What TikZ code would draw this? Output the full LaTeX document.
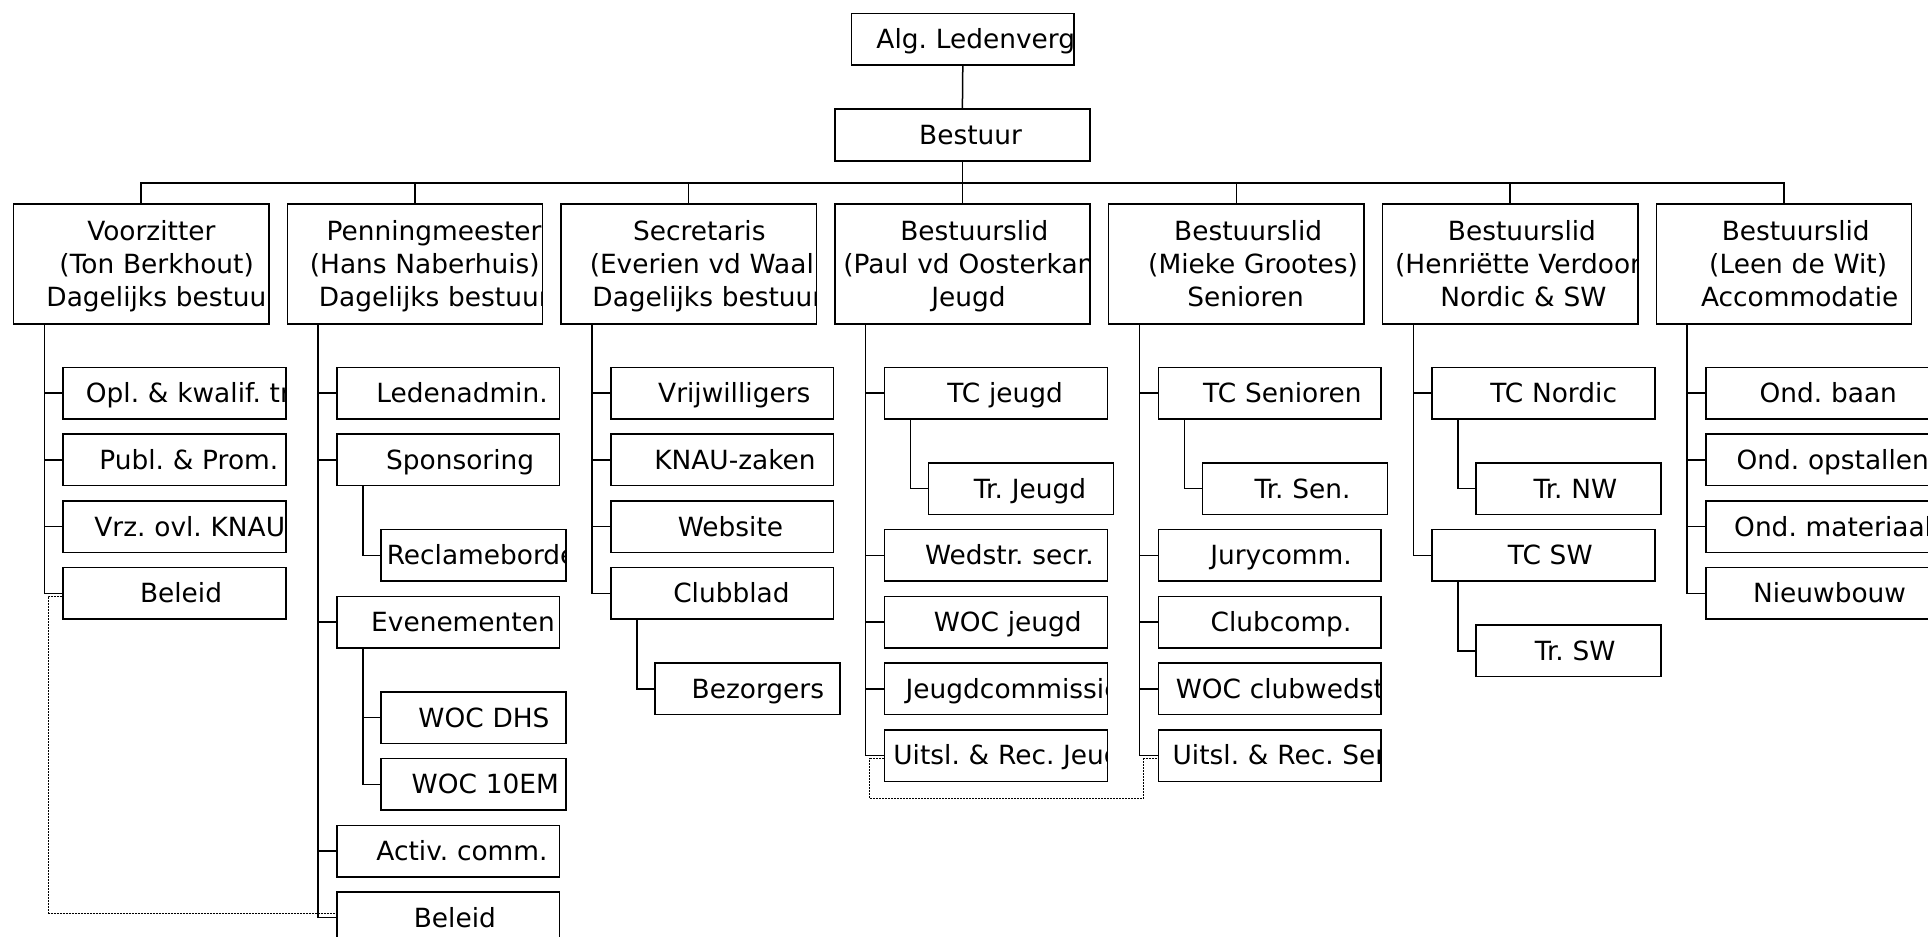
\documentclass[tikz,border=0pt]{standalone}
\usepackage{fontspec}
\setmainfont{DejaVu Sans}
\frenchspacing
\newcommand{\lt}[1]{\makebox[0.84\width][l]{#1}}
\newcommand{\lc}[2]{\makebox[\linewidth][l]{\hspace*{#1}\makebox[0pt][l]{#2}}}
\tikzset{
  box/.style={draw, inner sep=0pt, anchor=north west},
  ln/.style={draw=none, anchor=base, inner sep=0pt, minimum width=0pt, minimum height=0pt, text width=#1, align=center},
  headbox/.style={box, minimum width=127.65pt, minimum height=26pt,
    path picture={\node[ln=127.65pt] at ([yshift=-4.7pt]path picture bounding box.center) {\lt{#1}};}},
  topbox/.style n args={3}{box, minimum width=127.65pt, minimum height=60pt,
    path picture={
      \node[ln=127.65pt] at ([yshift=11.95pt]path picture bounding box.center) {#1};
      \node[ln=127.65pt] at ([yshift=-4.7pt]path picture bounding box.center) {#2};
      \node[ln=127.65pt] at ([yshift=-21.35pt]path picture bounding box.center) {#3};}},
  unitbox/.style={box, minimum width=111.35pt, minimum height=25.75pt,
    path picture={\node[ln=111.35pt] at ([yshift=-4.7pt]path picture bounding box.center) {\lt{#1}};}},
  unitcut/.style 2 args={box, minimum width=111.35pt, minimum height=25.75pt,
    path picture={\node[ln=111.35pt] at ([yshift=-4.7pt]path picture bounding box.center) {\lc{#1}{#2}};}},
  subbox/.style={box, minimum width=92.5pt, minimum height=25.75pt,
    path picture={\node[ln=92.5pt] at ([yshift=-4.7pt]path picture bounding box.center) {\lt{#1}};}},
  link/.style={line width=0.5pt, dash pattern=on 1pt off 0.5pt}
}
\begin{document}
\begin{tikzpicture}[x=0.5pt, y=-0.5pt, line width=0.75pt, font=\fontsize{13.2}{15.8}\selectfont]
  \useasboundingbox (0,0) rectangle (1928,937);
  \node[unitcut={12.5pt}{Alg. Ledenvergadering}] (alg) at (850.7,12.7) {};
  \node[headbox=Bestuur] (bst) at (834,108) {};
  \draw (alg.south) -- (bst.north);
  % board members
  \node[topbox={\lt{Voorzitter}}{\lt{(Ton Berkhout)}}{\lc{16.5pt}{Dagelijks bestuur}}] (t1) at (12.7,203.3) {};
  \node[topbox={\lc{19.65pt}{Penningmeester}}{\lc{11.3pt}{(Hans Naberhuis)}}{\lc{15.8pt}{Dagelijks bestuur}}] (t2) at (286.5,203.3) {};
  \node[topbox={\lt{Secretaris}}{\lc{14.35pt}{(Everien vd Waal)}}{\lc{15.7pt}{Dagelijks bestuur}}] (t3) at (560.3,203.3) {};
  \node[topbox={\lt{Bestuurslid}}{\lc{4.2pt}{(Paul vd Oosterkamp)}}{\lt{Jeugd}}] (t4) at (834.1,203.3) {};
  \node[topbox={\lt{Bestuurslid}}{\lt{(Mieke Grootes)}}{\lt{Senioren}}] (t5) at (1107.9,203.3) {};
  \node[topbox={\lt{Bestuurslid}}{\lc{6.35pt}{(Henriëtte Verdoorn)}}{\lt{Nordic \& SW}}] (t6) at (1381.7,203.3) {};
  \node[topbox={\lt{Bestuurslid}}{\lt{(Leen de Wit)}}{\lt{Accommodatie}}] (t7) at (1655.5,203.3) {};
  \foreach \i in {1,...,7} \draw (bst.south) -- ++(0,21.7) -| (t\i.north);
  % Voorzitter
  \foreach \n/\y/\t in {vz1/366.7/{Opl. \& kwalif. tr.}, vz2/433.4/{Publ. \& Prom.}, vz3/500.1/{Vrz. ovl. KNAU}, vz4/566.8/Beleid}
    {\node[unitbox=\t] (\n) at (62.4,\y) {}; \draw ([xshift=15.8pt]t1.south west) |- (\n.west);}
  % Penningmeester
  \foreach \n/\y/\t in {pm1/366.7/Ledenadmin., pm2/433.4/Sponsoring, pm3/595.6/Evenementen, pm4/824.5/{Activ. comm.}, pm5/891.2/Beleid}
    {\node[unitbox=\t] (\n) at (336.2,\y) {}; \draw ([xshift=15.8pt]t2.south west) |- (\n.west);}
  \node[subbox=Reclameborden] (pr1) at (380.2,528.9) {};
  \draw ([xshift=13.4pt]pm2.south west) |- (pr1.west);
  \node[subbox={WOC DHS}] (pe1) at (380.2,691.1) {};
  \node[subbox={WOC 10EM}] (pe2) at (380.2,757.8) {};
  \foreach \n in {pe1,pe2} \draw ([xshift=13.4pt]pm3.south west) |- (\n.west);
  % Secretaris
  \foreach \n/\y/\t in {sc1/366.7/Vrijwilligers, sc2/433.4/KNAU-zaken, sc3/500.1/Website, sc4/566.8/Clubblad}
    {\node[unitbox=\t] (\n) at (610,\y) {}; \draw ([xshift=15.8pt]t3.south west) |- (\n.west);}
  \node[subbox=Bezorgers] (sb1) at (654,662.3) {};
  \draw ([xshift=13.4pt]sc4.south west) |- (sb1.west);
  % Jeugd
  \foreach \n/\y/\t in {jd1/366.7/{TC jeugd}, jd2/528.9/{Wedstr. secr.}, jd3/595.6/{WOC jeugd}, jd4/662.3/Jeugdcommissie, jd5/729/{Uitsl. \& Rec. Jeugd}}
    {\node[unitbox=\t] (\n) at (883.8,\y) {}; \draw ([xshift=15.8pt]t4.south west) |- (\n.west);}
  \node[subbox={Tr. Jeugd}] (jt1) at (927.8,462.2) {};
  \draw ([xshift=13.4pt]jd1.south west) |- (jt1.west);
  % Senioren
  \foreach \n/\y/\t in {sn1/366.7/{TC Senioren}, sn2/528.9/Jurycomm., sn3/595.6/Clubcomp.}
    {\node[unitbox=\t] (\n) at (1157.6,\y) {};}
  \node[unitcut={8.7pt}{WOC clubwedstrijden}] (sn4) at (1157.6,662.3) {};
  \node[unitcut={7.15pt}{Uitsl. \& Rec. Senioren}] (sn5) at (1157.6,729) {};
  \foreach \n in {sn1,sn2,sn3,sn4,sn5} \draw ([xshift=15.8pt]t5.south west) |- (\n.west);
  \node[subbox={Tr. Sen.}] (st1) at (1201.6,462.2) {};
  \draw ([xshift=13.4pt]sn1.south west) |- (st1.west);
  % Nordic & SW
  \foreach \n/\y/\t in {nw1/366.7/{TC Nordic}, nw2/528.9/{TC SW}}
    {\node[unitbox=\t] (\n) at (1431.4,\y) {}; \draw ([xshift=15.8pt]t6.south west) |- (\n.west);}
  \node[subbox={Tr. NW}] (nt1) at (1475.4,462.2) {};
  \node[subbox={Tr. SW}] (nt2) at (1475.4,624.4) {};
  \draw ([xshift=13.4pt]nw1.south west) |- (nt1.west);
  \draw ([xshift=13.4pt]nw2.south west) |- (nt2.west);
  % Accommodatie
  \foreach \n/\y/\t in {ac1/366.7/{Ond. baan}, ac2/433.4/{Ond. opstallen}, ac3/500.1/{Ond. materiaal}, ac4/566.8/Nieuwbouw}
    {\node[unitbox=\t] (\n) at (1705.2,\y) {}; \draw ([xshift=15.8pt]t7.south west) |- (\n.west);}
  % dotted links
  \draw[link] ([yshift=-1.5pt]vz4.west) -- ++(-7pt,0) |- ([yshift=2.35pt]pm5.west);
  \draw[link] ([yshift=-1.7pt]jd5.west) -- ++(-7pt,0) -- ++(0,-19.8pt) -| ([xshift=-7pt,yshift=-1.7pt]sn5.west) -- ([yshift=-1.7pt]sn5.west);
\end{tikzpicture}
\end{document}
